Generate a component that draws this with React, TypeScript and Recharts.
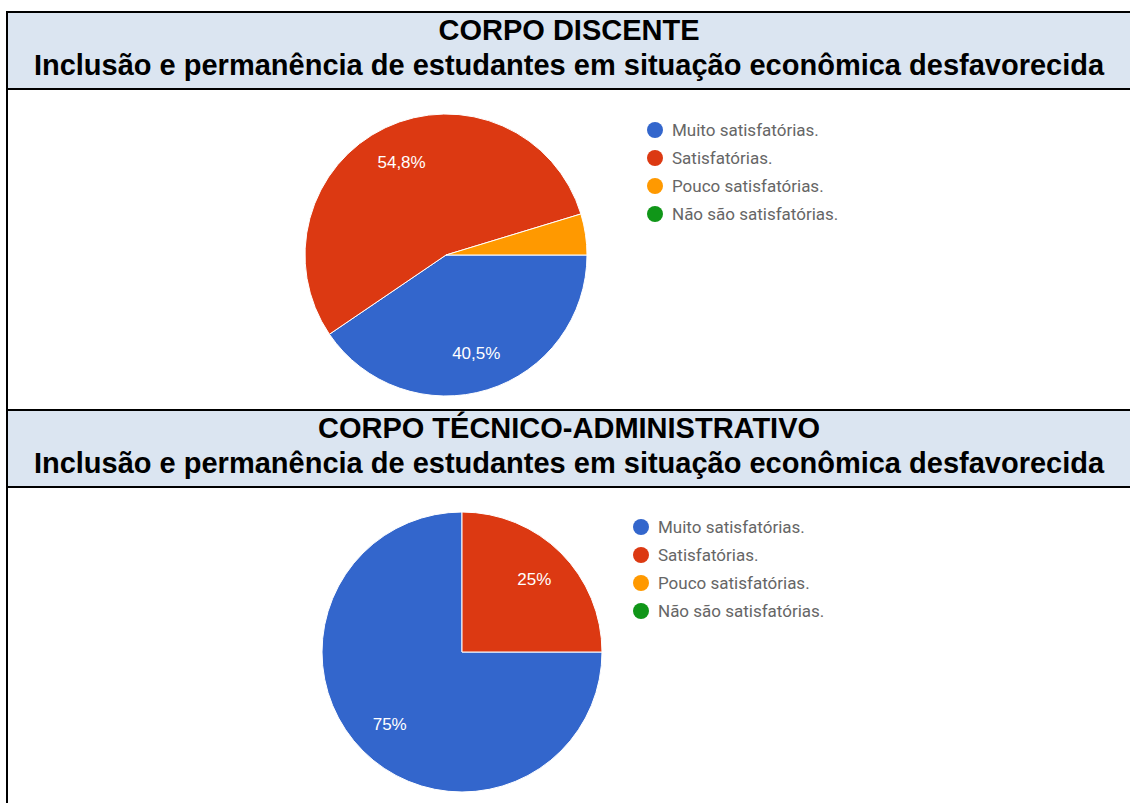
import React from 'react';
import { PieChart, Pie, Cell } from 'recharts';

const categories = ['Muito satisfatórias.', 'Satisfatórias.', 'Pouco satisfatórias.', 'Não são satisfatórias.'];
const sliceColors = ['#3366CC', '#DC3912', '#FF9900', '#109618'];

const discenteValues = [40.5, 54.8, 4.7, 0];
const tecnicoValues = [75, 25, 0, 0];

const groupTitles = ['CORPO DISCENTE', 'CORPO TÉCNICO-ADMINISTRATIVO'];
const subtitle = 'Inclusão e permanência de estudantes em situação econômica desfavorecida';

const headerBg = '#DBE5F1';
const border = '2px solid #000';

const formatPct = (v: number) => `${Number(v.toFixed(1)).toString().replace('.', ',')}%`;

const renderLabel = (props: any) => {
  const { cx, cy, midAngle, outerRadius, value } = props;
  if (!value || value < 5) return null;
  const r = outerRadius * 0.73;
  const rad = (Math.PI / 180) * midAngle;
  const x = cx + r * Math.cos(rad);
  const y = cy - r * Math.sin(rad);
  return (
    <text x={x} y={y} fill="#fff" fontSize={17} fontFamily="Arial, 'Liberation Sans', sans-serif" textAnchor="middle" dominantBaseline="central">
      {formatPct(value)}
    </text>
  );
};

const LegendList = ({ left, top }: { left: number; top: number }) => (
  <div style={{ position: 'absolute', left, top, fontFamily: 'Roboto, Arial, sans-serif', fontSize: 17, color: '#666' }}>
    {categories.map((c, i) => (
      <div key={c} style={{ display: 'flex', alignItems: 'center', height: 28 }}>
        <span style={{ width: 16, height: 16, borderRadius: 8, background: sliceColors[i], marginRight: 9, display: 'inline-block' }} />
        <span>{c}</span>
      </div>
    ))}
  </div>
);

const Header = ({ top, title }: { top: number; title: string }) => (
  <div
    style={{
      position: 'absolute',
      left: 6,
      top,
      width: 1140,
      height: 77,
      background: headerBg,
      borderTop: border,
      borderLeft: border,
      boxSizing: 'border-box',
      fontFamily: '"Liberation Sans", Arial, sans-serif',
      fontWeight: 'bold',
      fontSize: 29,
      lineHeight: '35px',
      color: '#000',
    }}
  >
    <div style={{ width: 1122, textAlign: 'center' }}>{title}</div>
    <div style={{ width: 1122, textAlign: 'center' }}>{subtitle}</div>
  </div>
);

const ChartRow = ({ top, height, values, cx, cy, radius, legendLeft, legendTop }: { top: number; height: number; values: number[]; cx: number; cy: number; radius: number; legendLeft: number; legendTop: number }) => {
  const data = categories.map((name, i) => ({ name, value: values[i] }));
  return (
    <div
      style={{
        position: 'absolute',
        left: 6,
        top,
        width: 1140,
        height,
        borderTop: border,
        borderLeft: border,
        boxSizing: 'border-box',
        background: '#fff',
      }}
    >
      <PieChart width={1120} height={height - 2}>
        <Pie
          data={data}
          dataKey="value"
          nameKey="name"
          cx={cx}
          cy={cy}
          outerRadius={radius}
          startAngle={0}
          endAngle={-360}
          stroke="#fff"
          strokeWidth={1}
          label={renderLabel}
          labelLine={false}
          isAnimationActive={false}
        >
          {data.map((d, i) => (
            <Cell key={d.name} fill={sliceColors[i]} />
          ))}
        </Pie>
      </PieChart>
      <LegendList left={legendLeft} top={legendTop} />
    </div>
  );
};

export default function App() {
  return (
    <div style={{ position: 'absolute', left: 0, top: 0, width: 1130, height: 803, overflow: 'hidden', background: '#fff' }}>
      <Header top={11} title={groupTitles[0]} />
      <ChartRow top={88} height={321} values={discenteValues} cx={433} cy={160} radius={141} legendLeft={639} legendTop={26} />
      <Header top={409} title={groupTitles[1]} />
      <ChartRow top={486} height={330} values={tecnicoValues} cx={449} cy={159} radius={140} legendLeft={625} legendTop={25} />
    </div>
  );
}
